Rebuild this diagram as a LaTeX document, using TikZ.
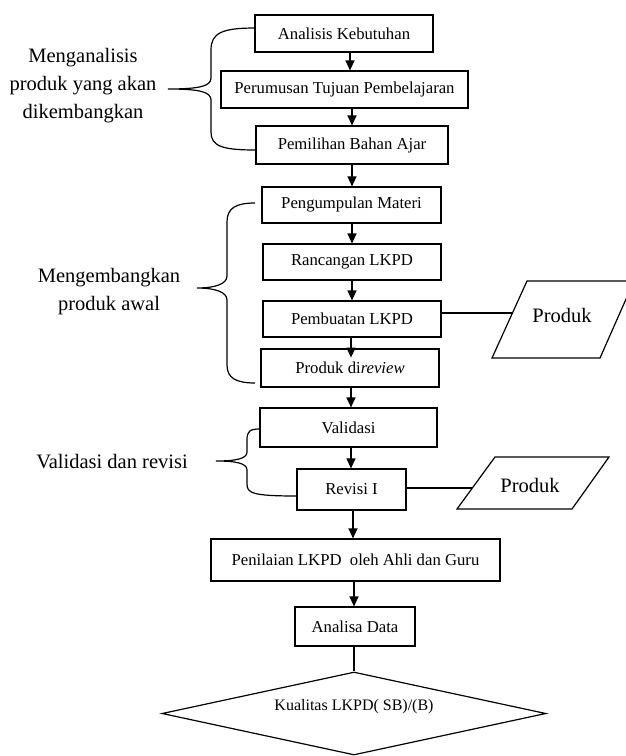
\documentclass[tikz,border=0pt]{standalone}
\usepackage{fontspec}
\setmainfont{Liberation Serif}
\usetikzlibrary{arrows.meta,shapes.geometric}
\begin{document}
\begin{tikzpicture}[x=1pt,y=-1pt,
  box/.style={draw, line width=1.2pt, inner sep=0pt, font=\fontsize{16.7}{19}\selectfont},
  arr/.style={line width=1.2pt, -{Triangle[length=10pt,width=9pt]}},
  ln/.style={line width=1.2pt},
  lbl/.style={align=center, font=\fontsize{20.5}{28}\selectfont, inner sep=0pt},
  ptxt/.style={font=\fontsize{20.5}{24}\selectfont, inner sep=0pt},
  ]
\useasboundingbox (0,0) rectangle (625,756);

% main boxes
\node[box, minimum width=178, minimum height=37] (b1) at (344,33.5) {Analisis Kebutuhan};
\node[box, minimum width=247, minimum height=37] (b2) at (344.5,89.5) {Perumusan Tujuan Pembelajaran};
\node[box, minimum width=192, minimum height=38] (b3) at (352,145) {Pemilihan Bahan Ajar};
\node[box, minimum width=179, minimum height=36] (b4) at (351.5,205) {Pengumpulan Materi};
\node[box, minimum width=178, minimum height=36] (b5) at (352,262) {Rancangan LKPD};
\node[box, minimum width=178, minimum height=36] (b6) at (352,319) {Pembuatan LKPD};
\node[box, minimum width=178, minimum height=38] (b7) at (350,368) {Produk di\textit{review}};
\node[box, minimum width=177, minimum height=39] (b8) at (348.5,427.5) {Validasi};
\node[box, minimum width=109, minimum height=41] (b9) at (351.5,489.5) {Revisi I};
\node[box, minimum width=289, minimum height=42] (b10) at (355.5,560) {Penilaian LKPD\ \ oleh Ahli dan Guru};
\node[box, minimum width=120, minimum height=39] (b11) at (355,626.5) {Analisa Data};
\node[draw, line width=1.2pt, diamond, aspect=4.6, inner sep=0pt,
      minimum width=384, minimum height=83] (d) at (354,713.5) {};
\node[font=\fontsize{16}{19}\selectfont, inner sep=0pt] (dt) at (354,707) {Kualitas LKPD( SB)/(B)};

% arrow columns
\coordinate (a1) at (350,0);
\coordinate (a2) at (352,0);
\coordinate (a7) at (351,0);
\coordinate (a9) at (353,0);
\coordinate (a10) at (354,0);

\draw[arr] (b1.south -| a1) -- (b2.north -| a1);
\draw[arr] (b2.south -| a2) -- (b3.north -| a2);
\draw[arr] (b3.south -| a2) -- (b4.north -| a2);
\draw[arr] (b4.south -| a2) -- (b5.north -| a2);
\draw[arr] (b5.south -| a2) -- (b6.north -| a2);
\draw[arr] (b6.south -| a7) -- ++(0,20);
\draw[arr] (b7.south -| a7) -- (b8.north -| a7);
\draw[arr] (b8.south -| a7) -- (b9.north -| a7);
\draw[arr] (b9.south -| a9) -- (b10.north -| a9);
\draw[arr] (b10.south -| a10) -- (b11.north -| a10);
\draw[ln] (d.north |- b11.south) -- (d.north);

% output parallelograms
\draw[ln] (492,358) -- (527,281) -- (634,281) -- (600,358) -- cycle;
\node[ptxt] (p1) at (562,315) {Produk};
\coordinate (p1in) at (512,313);
\draw[ln] (p1in -| b6.east) -- (p1in);

\draw[ln] (457,509) -- (495,457) -- (609,457) -- (572,509) -- cycle;
\node[ptxt] (p2) at (530,485) {Produk};
\coordinate (p2in) at (472,488);
\draw[ln] (p2in -| b9.east) -- (p2in);

% braces
\draw[ln] (255,28) .. controls (222,28) and (211,33) .. (211,50) -- (211,78)
  .. controls (211,86) and (200,89) .. (168,89)
  .. controls (200,89) and (211,92) .. (211,100) -- (211,132)
  .. controls (211,146) and (222,150) .. (255,150);

\draw[ln] (255,203) .. controls (236,203) and (227,208) .. (227,222) -- (227,276)
  .. controls (227,284) and (215,288) .. (197,288)
  .. controls (215,288) and (227,292) .. (227,300) -- (227,365)
  .. controls (227,378) and (236,383) .. (255,383);

\draw[ln] (260,429) .. controls (250,429) and (247,431) .. (247,440) -- (247,452)
  .. controls (247,459) and (235,461) .. (216,461)
  .. controls (235,461) and (247,463) .. (247,470) -- (247,484)
  .. controls (247,493) and (252,496) .. (297,496);

% side labels
\node[lbl] (l1) at (83,86) {Menganalisis\\produk yang akan\\dikembangkan};
\node[lbl] (l2) at (109,292) {Mengembangkan\\produk awal};
\node[lbl] (l3) at (112,462) {Validasi dan revisi};
\end{tikzpicture}
\end{document}
